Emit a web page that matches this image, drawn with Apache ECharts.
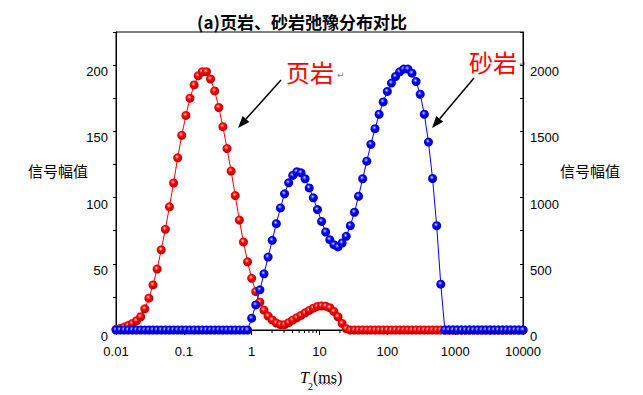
<!DOCTYPE html>
<html>
<head>
<meta charset="utf-8">
<script src="https://cdn.jsdelivr.net/npm/echarts@6/dist/echarts.min.js"></script>
<style>
html,body{margin:0;padding:0;background:#fff;}
#chart{width:643px;height:395px;}
</style>
</head>
<body>
<div id="chart"></div>
<script>
// T2 relaxation times (ms), log-spaced grid
const T2 = [
  0.01, 0.011498, 0.013219, 0.015199, 0.017475, 0.020092, 0.023101, 0.026561, 0.030539, 0.035112,
  0.04037, 0.046416, 0.053367, 0.061359, 0.070548, 0.081113, 0.09326, 0.10723, 0.12328, 0.14175,
  0.16298, 0.18738, 0.21544, 0.24771, 0.2848, 0.32745, 0.37649, 0.43288, 0.4977, 0.57224,
  0.65793, 0.75646, 0.86975, 1.0, 1.1498, 1.3219, 1.5199, 1.7475, 2.0092, 2.3101,
  2.6561, 3.0539, 3.5112, 4.037, 4.6416, 5.3367, 6.1359, 7.0548, 8.1113, 9.326,
  10.723, 12.328, 14.175, 16.298, 18.738, 21.544, 24.771, 28.48, 32.745, 37.649,
  43.288, 49.77, 57.224, 65.793, 75.646, 86.975, 100, 114.98, 132.19, 151.99,
  174.75, 200.92, 231.01, 265.61, 305.39, 351.12, 403.7, 464.16, 533.67, 613.59,
  705.48, 811.13, 932.6, 1072.3, 1232.8, 1417.5, 1629.8, 1873.8, 2154.4, 2477.1,
  2848, 3274.5, 3764.9, 4328.8, 4977, 5722.4, 6579.3, 7564.6, 8697.5, 10000
];
// Shale (页岩) amplitude, left axis
const shale = [
  0.5, 1.2, 2.2, 3.5, 5, 7, 10, 16, 24, 34,
  46, 60.5, 76, 93, 111, 130, 147, 162, 175, 185,
  192, 195, 195, 189.5, 180.5, 168, 153.5, 137, 120, 101.5,
  83, 66.5, 51.5, 39, 29, 21, 15, 10.5, 7.6, 5.2,
  4, 4, 5.5, 7.5, 9.3, 11, 13, 14.8, 16.5, 17.8,
  18.2, 18, 16.8, 14, 10, 5, 1, 0, 0, 0,
  0, 0, 0, 0, 0, 0, 0, 0, 0, 0,
  0, 0, 0, 0, 0, 0, 0, 0, 0, 0,
  0, 0, 0, 0, 0, 0, 0, 0, 0, 0,
  0, 0, 0, 0, 0, 0, 0, 0, 0, 0
];
// Sandstone (砂岩) amplitude, right axis
const sand = [
  0, 0, 0, 0, 0, 0, 0, 0, 0, 0,
  0, 0, 0, 0, 0, 0, 0, 0, 0, 0,
  0, 0, 0, 0, 0, 0, 0, 0, 0, 0,
  0, 0, 0, 89, 189, 303, 424, 551, 677, 803,
  922, 1028, 1111, 1167, 1195, 1187, 1142, 1073, 998, 909,
  820, 740, 682, 644, 627, 657, 707, 788, 889, 1010,
  1142, 1275, 1402, 1520, 1629, 1722, 1801, 1864, 1914, 1949,
  1970, 1970, 1939, 1876, 1780, 1629, 1419, 1144, 788, 346,
  0, 0, 0, 0, 0, 0, 0, 0, 0, 0,
  0, 0, 0, 0, 0, 0, 0, 0, 0, 0
];
const xTickLabels = ['0.01', '0.1', '1', '10', '100', '1000', '10000'];
const decades = [0.01, 0.1, 1, 10, 100, 1000];
const minorSteps = [2, 3, 4, 5, 6, 7, 8, 9];

const minorTicks = [];
decades.forEach(d => minorSteps.forEach(k => minorTicks.push([d * k, 0])));

function ball(light, base, dark) {
  return {
    type: 'radial', x: 0.42, y: 0.38, r: 0.62,
    colorStops: [
      {offset: 0, color: '#ffffff'},
      {offset: 0.14, color: light},
      {offset: 0.4, color: base},
      {offset: 1, color: dark}
    ]
  };
}

const chart = echarts.init(document.getElementById('chart'), null, {renderer: 'svg'});
const labelFont = {fontFamily: 'Liberation Sans, Arial, sans-serif', fontSize: 13, color: '#000'};

chart.setOption({
  animation: false,
  backgroundColor: '#fff',
  grid: {left: 116, right: 120, top: 32, bottom: 65, show: true, borderColor: '#000', borderWidth: 1, containLabel: false},
  xAxis: {
    type: 'log', logBase: 10, min: 0.01, max: 10000, splitNumber: 6,
    axisLine: {lineStyle: {color: '#000', width: 1}},
    axisTick: {show: true, length: 5, inside: false, lineStyle: {color: '#000'}},
    splitLine: {show: false},
    axisLabel: Object.assign({margin: 15, formatter: function (v) {
      const i = Math.round(Math.log10(v)) + 2;
      return xTickLabels[i] !== undefined ? xTickLabels[i] : '';
    }}, labelFont)
  },
  yAxis: [
    {
      type: 'value', min: 0, max: 225, interval: 25, position: 'left',
      axisLine: {show: true, lineStyle: {color: '#000'}},
      axisTick: {show: true, length: 3, inside: false, lineStyle: {color: '#000'}},
      splitLine: {show: false},
      axisLabel: Object.assign({margin: 8, verticalAlign: 'top', formatter: v => (v % 50 === 0 ? String(v) : '')}, labelFont)
    },
    {
      type: 'value', min: 0, max: 2250, interval: 250, position: 'right',
      axisLine: {show: true, lineStyle: {color: '#000'}},
      axisTick: {show: true, length: 3, inside: true, lineStyle: {color: '#000'}},
      splitLine: {show: false},
      axisLabel: Object.assign({margin: 7, verticalAlign: 'top', formatter: v => (v % 500 === 0 ? String(v) : '')}, labelFont)
    }
  ],
  series: [
    {
      type: 'custom', name: 'minorTicks', xAxisIndex: 0, yAxisIndex: 0, silent: true, clip: false,
      data: minorTicks,
      renderItem: function (params, api) {
        const p = api.coord([api.value(0), 0]);
        return {type: 'line', shape: {x1: p[0], y1: p[1], x2: p[0], y2: p[1] + 3}, style: {stroke: '#000', lineWidth: 1}};
      }
    },
    {
      type: 'line', name: '页岩', yAxisIndex: 0, clip: false, showAllSymbol: true,
      data: T2.map((t, i) => [t, shale[i]]),
      symbol: 'circle', symbolSize: 9,
      lineStyle: {color: '#ff0000', width: 1},
      itemStyle: {color: ball('#ff8080', '#ff0000', '#b00000'), borderWidth: 0}
    },
    {
      type: 'line', name: '砂岩', yAxisIndex: 1, clip: false, showAllSymbol: true,
      data: T2.map((t, i) => [t, sand[i]]),
      symbol: 'circle', symbolSize: 9,
      lineStyle: {color: '#0000ff', width: 1},
      itemStyle: {color: ball('#8080ff', '#0000ff', '#0000b0'), borderWidth: 0}
    }
  ],
  graphic: [
    {type: 'text', style: {text: '(a)页岩、砂岩弛豫分布对比', x: 302, y: 21, textAlign: 'center', align: 'center', textVerticalAlign: 'middle', verticalAlign: 'middle', font: 'bold 17px "Noto Sans CJK SC", sans-serif', fill: '#000'}},
    {type: 'text', style: {text: '信号幅值', x: 28, y: 170, textAlign: 'left', align: 'left', textVerticalAlign: 'middle', verticalAlign: 'middle', font: '15px "Noto Sans CJK SC", sans-serif', fill: '#000'}},
    {type: 'text', style: {text: '信号幅值', x: 560, y: 170, textAlign: 'left', align: 'left', textVerticalAlign: 'middle', verticalAlign: 'middle', font: '15px "Noto Sans CJK SC", sans-serif', fill: '#000'}},
    {type: 'text', style: {text: 'T', x: 300, y: 377, textAlign: 'left', align: 'left', textVerticalAlign: 'middle', verticalAlign: 'middle', font: 'italic 16px "Liberation Serif", serif', fill: '#000'}},
    {type: 'text', style: {text: '2', x: 308, y: 386, textAlign: 'left', align: 'left', textVerticalAlign: 'middle', verticalAlign: 'middle', font: '10px "Liberation Serif", serif', fill: '#000'}},
    {type: 'text', style: {text: '(ms)', x: 313, y: 377, textAlign: 'left', align: 'left', textVerticalAlign: 'middle', verticalAlign: 'middle', font: '16px "Liberation Serif", serif', fill: '#000'}},
    {type: 'polyline', shape: {points: [[318,383],[319.5,384.5],[321,383],[322.5,384.5],[324,383],[325.5,384.5],[327,383],[328.5,384.5],[330,383],[331.5,384.5],[333,383],[334.5,384.5],[336,383]]}, style: {stroke: '#ff0000', lineWidth: 0.8, fill: null}},
    {type: 'text', style: {text: '页岩', x: 310, y: 71, textAlign: 'center', align: 'center', textVerticalAlign: 'middle', verticalAlign: 'middle', font: '24px "Noto Sans CJK SC", sans-serif', fill: '#ff0000'}},
    {type: 'text', style: {text: '↵', x: 337, y: 75, textAlign: 'left', align: 'left', textVerticalAlign: 'middle', verticalAlign: 'middle', font: '9px "DejaVu Sans", sans-serif', fill: '#888'}},
    {type: 'text', style: {text: '砂岩', x: 493, y: 61, textAlign: 'center', align: 'center', textVerticalAlign: 'middle', verticalAlign: 'middle', font: '24px "Noto Sans CJK SC", sans-serif', fill: '#ff0000'}},
    {type: 'text', style: {text: '↵', x: 519, y: 64, textAlign: 'left', align: 'left', textVerticalAlign: 'middle', verticalAlign: 'middle', font: '9px "DejaVu Sans", sans-serif', fill: '#888'}},
    {type: 'line', shape: {x1: 281, y1: 80, x2: 246, y2: 119}, style: {stroke: '#000', lineWidth: 1.5}},
    {type: 'polygon', shape: {points: [[238,128],[249.4,122.1],[242.6,116.1]]}, style: {fill: '#000'}},
    {type: 'line', shape: {x1: 474, y1: 78, x2: 439.7, y2: 118.8}, style: {stroke: '#000', lineWidth: 1.5}},
    {type: 'polygon', shape: {points: [[432,128],[443.2,121.7],[436.3,115.9]]}, style: {fill: '#000'}}
  ]
});
</script>
</body>
</html>
